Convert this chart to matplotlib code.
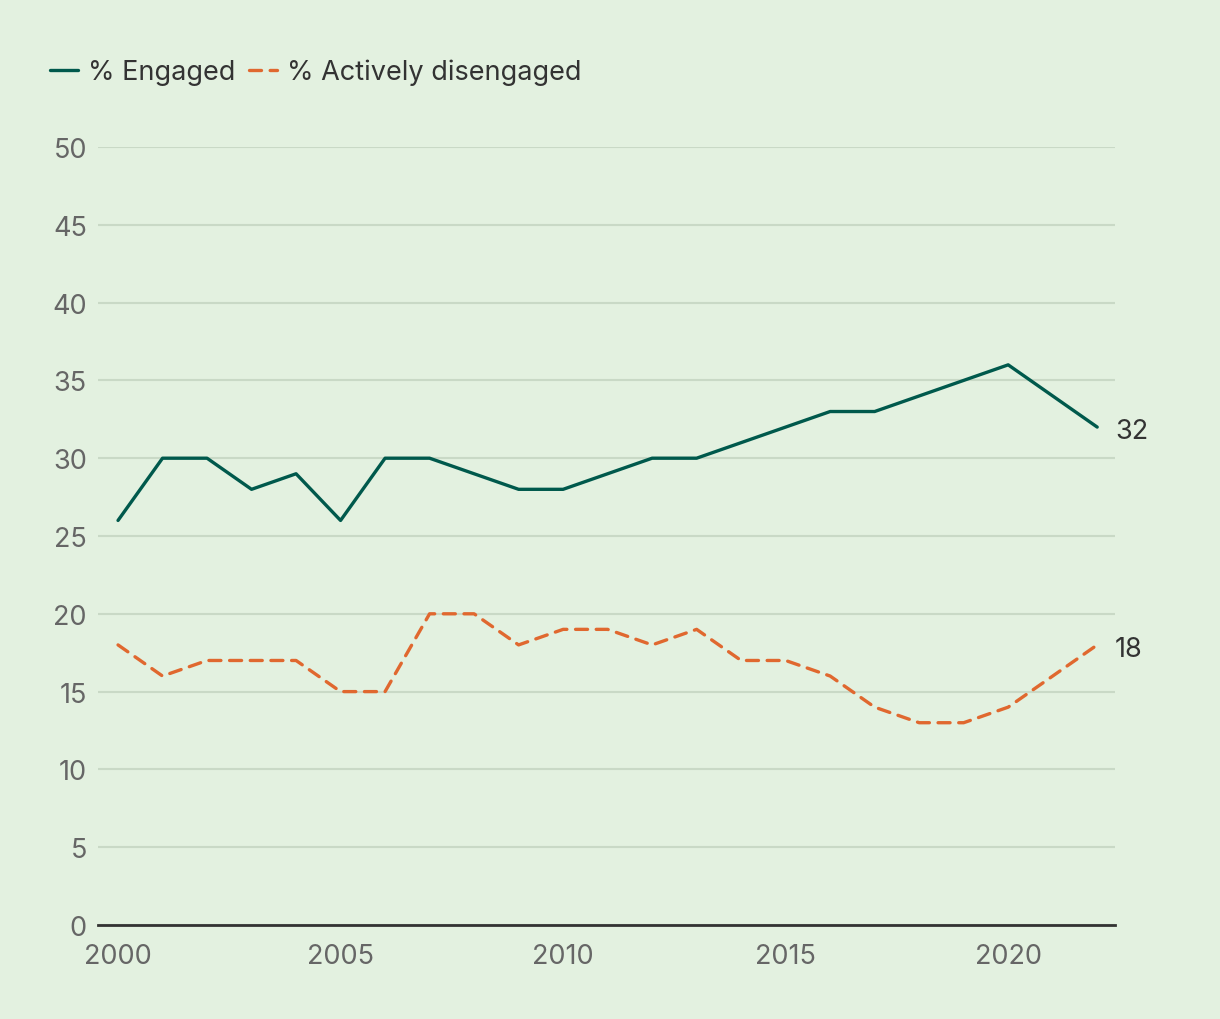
import matplotlib
matplotlib.use("Agg")
import matplotlib.pyplot as plt

years = list(range(2000, 2023))
engaged = [26, 30, 30, 28, 29, 26, 30, 30, 29, 28, 28, 29, 30, 30, 31, 32,
           33, 33, 34, 35, 36, 34, 32]
disengaged = [18, 16, 17, 17, 17, 15, 15, 20, 20, 18, 19, 19, 18, 19, 17, 17,
              16, 14, 13, 13, 14, 16, 18]
labels = ["% Engaged", "% Actively disengaged"]
yticks = [0, 5, 10, 15, 20, 25, 30, 35, 40, 45, 50]
xticks = [2000, 2005, 2010, 2015, 2020]

bg = "#e3f1e0"
green = "#00594c"
orange = "#e0682f"

plt.rcParams["font.family"] = ["Inter", "DejaVu Sans"]

fig = plt.figure(figsize=(12.2, 10.2), dpi=100, facecolor=bg)
ax = fig.add_axes([98 / 1220, 1 - 926 / 1020, (1115 - 98) / 1220, (926 - 148) / 1020])
ax.set_facecolor(bg)

ax.plot(years, engaged, color=green, lw=2.4, label=labels[0],
        solid_capstyle="round", clip_on=False, zorder=3)
ax.plot(years, disengaged, color=orange, lw=2.4, label=labels[1],
        dashes=(3.6, 2.6), dash_capstyle="round", clip_on=False, zorder=3)

# end-of-line value labels
ax.text(years[-1] + 0.4, engaged[-1] - 0.25, str(engaged[-1]), fontsize=19.5,
        color="#333333", va="center", ha="left")
ax.text(years[-1] + 0.4, disengaged[-1] - 0.25, str(disengaged[-1]), fontsize=19.5,
        color="#333333", va="center", ha="left")

ax.set_xlim(1999.55, 2022.4)
ax.set_ylim(0, 50)
ax.set_yticks(yticks)
ax.set_xticks(xticks)
ax.grid(axis="y", color="#c9d9c6", lw=1.5, zorder=1)
ax.grid(axis="x", visible=False)
ax.tick_params(axis="both", length=0, labelsize=19.5, labelcolor="#666666")
ax.tick_params(axis="y", pad=8)
ax.tick_params(axis="x", pad=13)
for s in ["top", "right", "left"]:
    ax.spines[s].set_visible(False)
ax.spines["bottom"].set_color("#333333")
ax.spines["bottom"].set_linewidth(2)
ax.spines["bottom"].set_zorder(4)

leg = ax.legend(loc="center left", bbox_to_anchor=(39 / 1220, 1 - 73 / 1020),
                bbox_transform=fig.transFigure, ncol=2, frameon=False,
                fontsize=19.5, handlelength=1.05, handletextpad=0.35,
                columnspacing=0.5, borderaxespad=0)
for t in leg.get_texts():
    t.set_color("#333333")

fig.savefig("out.png", dpi=100, facecolor=bg)
